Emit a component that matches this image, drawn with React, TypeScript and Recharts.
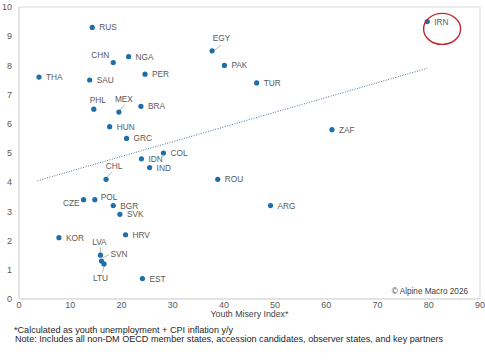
import { ScatterChart, Scatter, XAxis, YAxis, ReferenceLine, ReferenceArea, ReferenceDot } from "recharts";

const FONT = "'Liberation Sans', Arial, sans-serif";
const DOT = "#1f6ea7";
const LABEL = "#595959";
const FRAME = "#d9d9d9";
const TREND = "#4d7299";
const HIGHLIGHT = "#c0262d";

// Country codes, youth misery index (x) and score (y)
const CODES = [
  "RUS", "THA", "CHN", "NGA", "SAU", "PER", "PHL", "MEX", "BRA", "HUN", "GRC",
  "EGY", "PAK", "COL", "IRN", "TUR", "ZAF", "IDN", "IND", "CHL", "ROU", "CZE",
  "POL", "BGR", "SVK", "KOR", "HRV", "LVA", "SVN", "LTU", "EST", "ARG",
];
const MISERY = [
  14.3, 3.9, 18.4, 21.4, 13.8, 24.6, 14.6, 19.5, 23.8, 17.7, 21.0,
  37.7, 40.1, 28.2, 79.7, 46.4, 61.1, 23.9, 25.5, 17.0, 38.8, 12.6,
  14.8, 18.4, 19.7, 7.8, 20.8, 15.9, 16.1, 16.6, 24.1, 49.1,
];
const SCORE = [
  9.3, 7.6, 8.1, 8.3, 7.5, 7.7, 6.5, 6.4, 6.6, 5.9, 5.5,
  8.5, 8.0, 5.0, 9.5, 7.4, 5.8, 4.8, 4.5, 4.1, 4.1, 3.4,
  3.4, 3.2, 2.9, 2.1, 2.2, 1.5, 1.3, 1.2, 0.7, 3.2,
];

// Linear trend endpoints
const TREND_X = [3.6, 79.7];
const TREND_Y = [4.05, 7.9];

const X_TICKS = [0, 10, 20, 30, 40, 50, 60, 70, 80, 90];
const Y_TICKS = [0, 1, 2, 3, 4, 5, 6, 7, 8, 9, 10];

// Label placement (pixels from the dot): dx, dy, anchor, optional leader line
type Place = { dx: number; dy: number; anchor?: "start" | "middle" | "end"; leader?: [number, number, number, number] };
const PLACES: Record<string, Place> = {
  CHN: { dx: -4, dy: -7, anchor: "end" },
  PHL: { dx: 4, dy: -9.5, anchor: "middle" },
  MEX: { dx: 5, dy: -13, anchor: "middle", leader: [1, -2, 5.5, -7.5] },
  EGY: { dx: 9.5, dy: -13, anchor: "middle", leader: [2, -0.5, 9, -5.5] },
  CHL: { dx: 8, dy: -13, anchor: "middle", leader: [1, -2, 6, -7.5] },
  CZE: { dx: -4, dy: 3, anchor: "end" },
  POL: { dx: 6, dy: -3 },
  LVA: { dx: -1, dy: -13, anchor: "middle", leader: [0, -2, 0, -8] },
  SVN: { dx: 9, dy: -7, leader: [1.5, -3, 7.5, -6.5] },
  LTU: { dx: -3.5, dy: 14, anchor: "middle", leader: [0, 2, -1.5, 8.5] },
};

const points = CODES.map((code, i) => ({ code, x: MISERY[i], y: SCORE[i] }));

function CountryDot(props: any) {
  const { cx, cy, payload } = props;
  if (cx == null || cy == null) return null;
  const p = PLACES[payload.code] ?? { dx: 7, dy: 0 };
  return (
    <g>
      {p.leader && (
        <line
          x1={cx + p.leader[0]}
          y1={cy + p.leader[1]}
          x2={cx + p.leader[2]}
          y2={cy + p.leader[3]}
          stroke="#a6a6a6"
          strokeWidth={0.8}
        />
      )}
      <circle cx={cx} cy={cy} r={2.6} fill={DOT} />
      <text
        x={cx + p.dx}
        y={cy + p.dy}
        textAnchor={p.anchor ?? "start"}
        dominantBaseline="central"
        fontSize={8.3}
        fontFamily={FONT}
        fill={LABEL}
      >
        {payload.code}
      </text>
    </g>
  );
}

export default function App() {
  return (
    <div
      style={{
        position: "fixed",
        top: 0,
        left: 0,
        width: 485,
        height: 360,
        background: "#fff",
        fontFamily: FONT,
      }}
    >
      <ScatterChart width={485} height={325} margin={{ top: 7, right: 5, bottom: 0, left: 0 }}>
        <ReferenceArea x1={0} x2={90} y1={0} y2={10} fill="none" stroke={FRAME} strokeWidth={1} />
        <XAxis
          type="number"
          dataKey="x"
          domain={[0, 90]}
          ticks={X_TICKS}
          height={26}
          tickLine={false}
          tickSize={0}
          tickMargin={3}
          axisLine={{ stroke: FRAME }}
          tick={{ fill: LABEL, fontSize: 9, fontFamily: FONT }}
        />
        <YAxis
          type="number"
          dataKey="y"
          domain={[0, 10]}
          ticks={Y_TICKS}
          width={19}
          tickLine={false}
          tickSize={0}
          tickMargin={7}
          axisLine={{ stroke: FRAME }}
          tick={{ fill: LABEL, fontSize: 9, fontFamily: FONT }}
        />
        <ReferenceLine
          segment={[
            { x: TREND_X[0], y: TREND_Y[0] },
            { x: TREND_X[1], y: TREND_Y[1] },
          ]}
          stroke={TREND}
          strokeWidth={1}
          strokeDasharray="1 1.5"
        />
        <Scatter data={points} shape={<CountryDot />} isAnimationActive={false} />
        <ReferenceDot
          x={82.6}
          y={9.25}
          shape={(p: any) => (
            <ellipse cx={p.cx} cy={p.cy} rx={18.5} ry={15.5} fill="none" stroke={HIGHLIGHT} strokeWidth={1.4} />
          )}
        />
      </ScatterChart>
      <div style={{ position: "absolute", right: 17, top: 287, fontSize: 8.2, lineHeight: "9px", color: "#404040" }}>
        © Alpine Macro 2026
      </div>
      <div
        style={{
          position: "absolute",
          left: 19,
          width: 461,
          top: 310,
          textAlign: "center",
          fontSize: 8.8,
          lineHeight: "9px",
          color: "#404040",
        }}
      >
        Youth Misery Index*
      </div>
      <div
        style={{
          position: "absolute",
          left: 14,
          top: 326,
          fontSize: 9.1,
          lineHeight: "9px",
          color: "#262626",
          whiteSpace: "nowrap",
        }}
      >
        <div>*Calculated as youth unemployment + CPI inflation y/y</div>
        <div style={{ paddingLeft: 1 }}>
          Note: Includes all non-DM OECD member states, accession candidates, observer states, and key partners
        </div>
      </div>
    </div>
  );
}
